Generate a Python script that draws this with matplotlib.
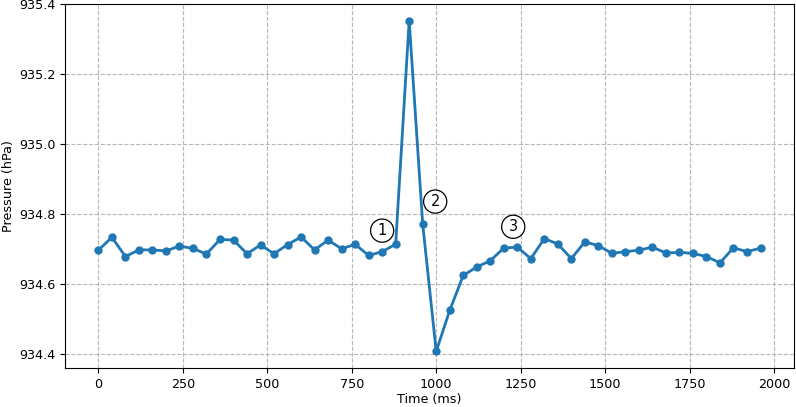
import matplotlib
matplotlib.use("Agg")
import matplotlib.pyplot as plt

# time axis in ms, one sample every 40 ms
time_ms = list(range(0, 2000, 40))
pressure = [
    934.697, 934.734, 934.679, 934.698, 934.698, 934.695, 934.709, 934.702, 934.686, 934.728,
    934.726, 934.687, 934.712, 934.687, 934.713, 934.735, 934.698, 934.726, 934.701, 934.714,
    934.682, 934.693, 934.714, 935.353, 934.772, 934.408, 934.525, 934.625, 934.649, 934.667,
    934.703, 934.706, 934.673, 934.730, 934.715, 934.673, 934.721, 934.710, 934.688, 934.693,
    934.697, 934.706, 934.689, 934.691, 934.688, 934.679, 934.661, 934.704, 934.693, 934.703,
]

# circled phase markers
marker_labels = ["1", "2", "3"]
marker_x = [840, 997, 1228]
marker_y = [934.753, 934.836, 934.764]

plt.rcParams['font.size'] = 9.2

fig, ax = plt.subplots(figsize=(7.96, 4.07), dpi=100)
fig.subplots_adjust(left=0.082, right=0.997, top=0.990, bottom=0.096)

ax.plot(time_ms, pressure, marker='o', color='tab:blue', linewidth=2, markersize=5)

for lbl, mx, my in zip(marker_labels, marker_x, marker_y):
    ax.text(mx, my, lbl, ha='center', va='center', fontsize=10.5,
            bbox=dict(boxstyle='circle,pad=0.28', fc='white', ec='black', lw=0.9))

ax.grid(True, linestyle='--', color='#b0b0b0', alpha=0.9)
ax.set_xlabel("Time (ms)", labelpad=2)
ax.set_ylabel("Pressure (hPa)", labelpad=3)

fig.savefig("out.png", dpi=100)
